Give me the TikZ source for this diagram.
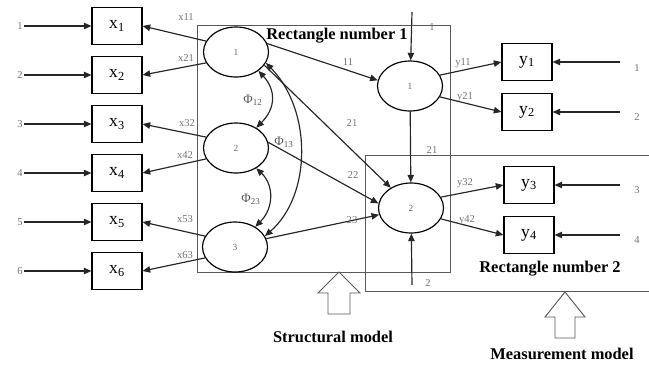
\documentclass[tikz,border=0pt]{standalone}
\usepackage{fontspec}
\setmainfont{Liberation Serif}
\usetikzlibrary{arrows.meta,shapes.geometric}

\begin{document}
\begin{tikzpicture}[x=0.03cm, y=-0.03cm]
  \def\boxw{1.5cm}
  \def\boxh{1.1cm}
  \tikzstyle{obs} = [rectangle, draw, line width=1pt, minimum width=\boxw, minimum height=\boxh, inner sep=0pt, font=\fontsize{15}{17}\selectfont]
  \tikzstyle{lat} = [ellipse, draw, line width=1pt, minimum width=1.95cm, minimum height=1.5cm, inner sep=0pt, font=\footnotesize, text=black!60]
  \tikzstyle{lbl} = [font=\fontsize{9}{10}\selectfont, text=black!55, inner sep=1pt]
  \tikzstyle{phi} = [font=\fontsize{11}{12}\selectfont, text=black!65, inner sep=1pt]
  \tikzstyle{arr} = [-{Triangle[length=6.5pt,width=5.5pt]}, line width=1pt, draw=black!85]
  \tikzstyle{biarr} = [{Triangle[length=6.5pt,width=5.5pt]}-{Triangle[length=6.5pt,width=5.5pt]}, line width=1pt, draw=black!85]
  \tikzstyle{frame} = [draw=black!65, line width=0.8pt]
  \tikzstyle{title} = [font=\fontsize{14}{16}\selectfont\bfseries]

  \useasboundingbox (0,0) rectangle (649,365);

  % structural and measurement frames
  \draw[frame] (197,25) rectangle (450,272);
  \draw[frame] (649,155) -- (365,155) -- (365,291) -- (649,291);

  % exogenous side
  \begin{scope}
    \node[lat] (E1) at (236,52) {1};
    \node[lat] (E2) at (236,148) {2};
    \node[lat] (E3) at (235,247) {3};

    \foreach \i/\y in {1/26, 2/75, 3/124, 4/173, 5/222, 6/271} {
      \node[obs] (x\i) at (117,\y) {x\textsubscript{\i}};
      \node[lbl] (e\i) at (20,\y) {\i};
      \draw[arr] (e\i) -- (x\i);
    }

    \draw[arr] (E1.160) -- (x1.east);
    \draw[arr] (E1.200) -- (x2.east);
    \draw[arr] (E2.160) -- (x3.east);
    \draw[arr] (E2.200) -- (x4.east);
    \draw[arr] (E3.160) -- (x5.east);
    \draw[arr] (E3.200) -- (x6.east);

    \node[lbl] (l11) at (186,17) {x11};
    \node[lbl] (l21) at (186,58) {x21};
    \node[lbl] (l32) at (187,123) {x32};
    \node[lbl] (l42) at (185,155) {x42};
    \node[lbl] (l53) at (185,219) {x53};
    \node[lbl] (l63) at (185,255) {x63};

    % covariances
    \draw[biarr] (E1.-40) .. controls (276,90) and (276,108) .. (E2.45);
    \draw[biarr] (E2.-45) .. controls (274,185) and (274,208) .. (E3.45);
    \draw[biarr] (E1.-20) .. controls (312,110) and (312,195) .. (E3.20);
    \node[phi] (p12) at (253,100) {Φ\textsubscript{12}};
    \node[phi] (p13) at (284,142) {Φ\textsubscript{13}};
    \node[phi] (p23) at (251,199) {Φ\textsubscript{23}};
  \end{scope}

  % endogenous side
  \begin{scope}
    \node[lat] (N1) at (410,86) {1};
    \node[lat] (N2) at (411,208) {2};

    \node[obs] (y1) at (527,62) {y\textsubscript{1}};
    \node[obs] (y2) at (527,112) {y\textsubscript{2}};
    \node[obs] (y3) at (529,185) {y\textsubscript{3}};
    \node[obs] (y4) at (529,235) {y\textsubscript{4}};

    \foreach \i/\y/\ly in {1/62/68, 2/112/117, 3/185/190, 4/235/240} {
      \coordinate (s\i) at (620,\y);
      \node[lbl] (d\i) at (637,\ly) {\i};
      \draw[arr] (s\i) -- (y\i.east);
    }

    \draw[arr] (N1.20) -- (y1.west);
    \draw[arr] (N1.-20) -- (y2.west);
    \draw[arr] (N2.20) -- (y3.west);
    \draw[arr] (N2.-20) -- (y4.west);

    \node[lbl] (m11) at (463,63) {y11};
    \node[lbl] (m21) at (465,97) {y21};
    \node[lbl] (m32) at (465,183) {y32};
    \node[lbl] (m42) at (467,220) {y42};

    % paths between latents
    \draw[arr] (E1.15) -- (N1.170);
    \draw[arr] (E1.-25) -- (N2.135);
    \draw[arr] (E2.10) -- (N2.172);
    \draw[arr] (E3.15) -- (N2.192);
    \draw[arr] (N1) -- (N2);
    \node[lbl] (g11) at (348,62) {11};
    \node[lbl] (g21) at (352,123) {21};
    \node[lbl] (g22) at (353,175) {22};
    \node[lbl] (g23) at (352,220) {23};
    \node[lbl] (b21) at (432,150) {21};

    % disturbances
    \coordinate (z1) at (412,12);
    \coordinate (z2) at (412,285);
    \draw[arr] (z1) -- (N1);
    \draw[arr] (z2) -- (N2);
    \node[lbl] (k1) at (432,27) {1};
    \node[lbl] (k2) at (428,283) {2};
  \end{scope}

  % captions and pointers
  \node[title] (r1) at (337,36) {Rectangle number 1};
  \node[title] (r2) at (550,269) {Rectangle number 2};
  \draw[frame] (339,272) -- (360,293) -- (350,293) -- (350,314) -- (328,314) -- (328,293) -- (318,293) -- cycle;
  \draw[frame] (565,292) -- (585,317) -- (575,317) -- (575,338) -- (555,338) -- (555,317) -- (545,317) -- cycle;
  \node[title] (sm) at (333,337) {Structural model};
  \node[title] (mm) at (562,354) {Measurement model};

\end{tikzpicture}
\end{document}
